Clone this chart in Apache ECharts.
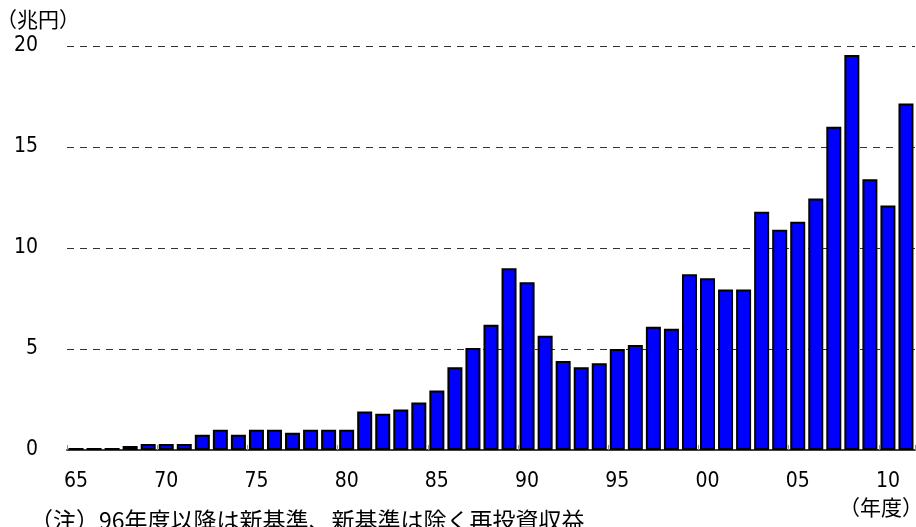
<!DOCTYPE html>
<html>
<head>
<meta charset="utf-8">
<script src="https://cdn.jsdelivr.net/npm/echarts@6/dist/echarts.min.js"></script>
<style>
  html, body { margin: 0; padding: 0; background: #fff; }
  #chart { width: 916px; height: 527px; }
</style>
</head>
<body>
<div id="chart"></div>
<script>
// fiscal years 1965-2011, label shown as two digits
const years = [];
for (let y = 1965; y <= 2011; y++) years.push(String(y % 100).padStart(2, '0'));

// 兆円
const values = [
  0.1, 0.1, 0.1, 0.2, 0.3, 0.3, 0.3, 0.75, 1.0, 0.75,
  1.0, 1.0, 0.85, 1.0, 1.0, 1.0, 1.9, 1.8, 2.0, 2.35,
  2.95, 4.1, 5.05, 6.2, 9.0, 8.3, 5.65, 4.4, 4.1, 4.3,
  5.0, 5.2, 6.1, 6.0, 8.7, 8.5, 7.95, 7.95, 11.8, 10.9,
  11.3, 12.45, 16.0, 19.55, 13.4, 12.1, 17.15
];

const yTicks = [0, 5, 10, 15, 20];

const numFont = '"Liberation Sans Narrow", "DejaVu Sans Condensed", sans-serif';
const jpFont = '"Noto Sans CJK JP", sans-serif';

const chart = echarts.init(document.getElementById('chart'));
chart.setOption({
  backgroundColor: '#ffffff',
  animation: false,
  grid: { left: 67, right: 1, top: 46, bottom: 77, containLabel: false },
  xAxis: {
    type: 'category',
    data: years,
    axisLine: { lineStyle: { color: '#404040', width: 2 } },
    axisTick: { show: true, inside: true, length: 5, lineStyle: { color: '#909090' } },
    axisLabel: {
      interval: 4,
      margin: 21,
      color: '#000',
      fontSize: 21,
      fontFamily: numFont
    }
  },
  yAxis: {
    type: 'value',
    min: yTicks[0],
    max: yTicks[yTicks.length - 1],
    interval: 5,
    axisLine: { show: false },
    axisTick: { show: false },
    axisLabel: { margin: 29, color: '#000', fontSize: 21, fontFamily: numFont },
    splitLine: {
      lineStyle: { color: '#333', type: [7, 6], width: 1 }
    }
  },
  series: [{
    type: 'bar',
    data: values,
    barWidth: 15,
    itemStyle: { color: '#0000ff', borderColor: '#000', borderWidth: 2 }
  }],
  graphic: [
    { type: 'text', left: -4, top: 9, style: { text: '（兆円）', fontSize: 21, fontFamily: jpFont, fill: '#000' } },
    { type: 'text', right: -7, top: 497, style: { text: '（年度）', fontSize: 21, fontFamily: jpFont, fill: '#000' } },
    { type: 'text', left: 30, top: 509, style: { text: '（注）96年度以降は新基準、新基準は除く再投資収益', fontSize: 23, fontFamily: jpFont, fill: '#000' } }
  ]
});
</script>
</body>
</html>
